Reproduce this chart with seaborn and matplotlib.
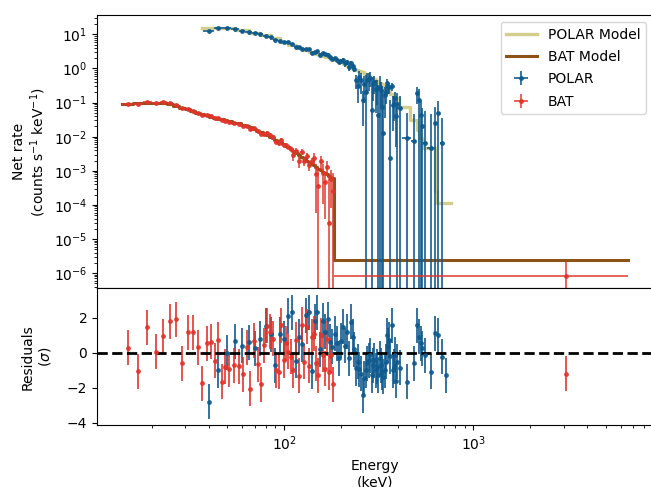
import numpy as np
import seaborn as sns
import matplotlib.pyplot as plt

# POLAR spectrum (keV, counts/s/keV)
polar_energy = [40, 45, 50, 55, 60, 65, 70, 75, 80, 85, 90, 95, 100, 105, 110, 115, 120, 125, 130, 135,
                140, 145, 150, 155, 160, 165, 170, 175, 180, 185, 190, 195, 200, 205, 210, 215, 220, 225,
                230, 235, 240, 245, 250, 255, 260, 265, 270, 275, 280, 285, 290, 295, 300, 305, 310, 315,
                320, 325, 330, 335, 340, 345, 350, 355, 360, 365, 370, 375, 380, 385, 390, 395,
                408, 445, 487, 505, 515, 526, 537, 556, 600, 630, 652, 680, 715]
polar_edges = [37.5, 42.5, 47.5, 52.5, 57.5, 62.5, 67.5, 72.5, 77.5, 82.5, 87.5, 92.5, 97.5, 102.5, 107.5,
               112.5, 117.5, 122.5, 127.5, 132.5, 137.5, 142.5, 147.5, 152.5, 157.5, 162.5, 167.5, 172.5,
               177.5, 182.5, 187.5, 192.5, 197.5, 202.5, 207.5, 212.5, 217.5, 222.5, 227.5, 232.5, 237.5,
               242.5, 247.5, 252.5, 257.5, 262.5, 267.5, 272.5, 277.5, 282.5, 287.5, 292.5, 297.5, 302.5,
               307.5, 312.5, 317.5, 322.5, 327.5, 332.5, 337.5, 342.5, 347.5, 352.5, 357.5, 362.5, 367.5,
               372.5, 377.5, 382.5, 387.5, 392.5, 397.5,
               420, 470, 500, 510, 520, 531, 543, 570, 620, 640, 665, 695, 740]
polar_rate = [12.5, 15.0, 15.1, 14.1, 12.8, 11.7, 10.6, 10.1, 9.2, 8.1, 6.7, 6.5,
              6.0, 5.9, 5.35, 4.2, 4.2, 3.7, 3.85, 3.6, 2.75, 3.1,
              3.3, 2.55, 2.85, 2.6, 2.55, 2.15, 1.92, 1.98, 1.75, 1.5,
              1.65, 1.8, 1.4, 1.5, 1.08, 1.45, 1.18, 0.99, 0.45, 0.30,
              0.55, 0.45, 0.12, 0.35,
              0.20, 0.46, 0.49, 0.53, 0.06, 0.34, 0.39, 0.25, 0.275, 0.044, 0.29, 0.24, 0.076,
              0.013, 0.165, 0.21, 0.38, 0.28, 0.28, 0.0023, 0.30, 0.085, 0.093, 0.135, 0.04, 0.092,
              0.071, 0.0093, 0.0076, 0.19, 0.12, 0.044, 0.02, 0.0065, 0.0048, 0.025, 0.05, 0.0065, np.nan]
polar_err = [0.55, 0.54, 0.53, 0.48, 0.44, 0.40, 0.37, 0.34, 0.30, 0.27, 0.24, 0.22,
             0.35, 0.32, 0.28, 0.26, 0.24, 0.22, 0.20, 0.19, 0.18, 0.17,
             0.27, 0.25, 0.24, 0.23, 0.22, 0.20, 0.19, 0.18, 0.17, 0.16,
             0.29, 0.28, 0.26, 0.24, 0.23, 0.21, 0.20, 0.19, 0.20, 0.20,
             0.28, 0.27, 0.10, 0.25,
             0.46, 0.28, 0.27, 0.25, 0.38, 0.225, 0.216, 0.20, 0.19, 0.28, 0.30, 0.16, 0.23,
             0.22, 0.13, 0.12, 0.12, 0.105, 0.096, 0.12, 0.078, 0.07, 0.065, 0.063, 0.035, 0.10,
             0.09, 0.04, 0.04, 0.10, 0.13, 0.07, 0.05, 0.05, 0.04, 0.05, 0.06, 0.03, 0.02]
polar_resid = [-2.8, -1.0, 0.0, 0.65, 0.4, 0.6, 0.25, 0.8, 1.55, 1.05, -0.7, 1.05,
               0.8, 2.1, 2.3, -0.45, 0.9, 0.5, 2.15, 2.3, -1.05, 1.8,
               2.3, 0.2, 1.83, 1.2, 1.91, 0.63, 0.34, 1.1, 0.54, -0.32,
               0.7, 1.49, 0.4, 1.2, -0.3, 1.77, 0.91, 0.2, -0.89, -0.5,
               -0.93, -1.2, -2.42, -1.46,
               -0.99, -0.6, -0.42, -0.13, -1.27, -0.7, -0.42, -1.0, -0.8, -1.27, -0.3, -0.7, -1.1,
               -1.37, -0.99, -0.5, 1.01, 0.4, 0.73, -0.2, 1.58, -1.0, -0.8, -0.1, -1.6, -0.5,
               -0.84, -1.66, -0.61, 1.58, 0.91, 0.54, 0.25, -0.13, -1.08, 1.11, 1.01, -0.23, -1.27]

polar_model_edges = [37, 45, 55, 65, 75, 85, 95, 105, 115, 125, 135, 145, 155, 165, 175, 185, 195, 205,
                     215, 225, 235, 245, 255, 265, 275, 285, 295, 305, 315, 325, 335, 345, 355, 365,
                     378, 406, 463, 502, 515, 533, 627, 645, 763]
polar_model = [15.8, 15.5, 13.2, 11.0, 9.3, 7.6, 6.0, 4.9, 4.1, 3.47, 3.0, 2.69, 2.40, 2.19, 1.95,
               1.74, 1.55, 1.35, 1.17, 1.05, 0.93, 0.85, 0.78, 0.69, 0.62, 0.54, 0.48, 0.43, 0.38,
               0.34, 0.295, 0.257, 0.214, 0.174, 0.141, 0.072, 0.031, 0.0158, 0.0089, 0.0046,
               2.5e-4, 1.12e-4]

# BAT spectrum
bat_energy = [15, 17, 19, 21, 23, 25, 27, 29, 31, 33, 35, 37, 39, 41, 43, 45, 47, 49,
              51.5, 54.5, 57.5, 60.5, 63.5, 66.5, 69.5, 72.5, 75.5, 78.5, 81.5, 84.5, 87.5, 90.5,
              93.5, 96.5, 99.5, 102.5, 105.5, 108.5,
              112, 116, 120, 124, 128, 132, 136, 140, 144, 148, 152, 156, 160, 164, 168, 172, 176,
              180.5, 3100]
bat_edges = [14, 16, 18, 20, 22, 24, 26, 28, 30, 32, 34, 36, 38, 40, 42, 44, 46, 48, 50,
             53, 56, 59, 62, 65, 68, 71, 74, 77, 80, 83, 86, 89, 92, 95, 98, 101, 104, 107, 110,
             114, 118, 122, 126, 130, 134, 138, 142, 146, 150, 154, 158, 162, 166, 170, 174, 178,
             183, 6560]
bat_rate = [0.090, 0.091, 0.106, 0.100, 0.102, 0.0955, 0.087, 0.069, 0.066, 0.0586, 0.0506, 0.0428,
            0.044, 0.040, 0.0354, 0.035, 0.0299, 0.029,
            0.0264, 0.0249, 0.0234, 0.0208, 0.0213, 0.0167, 0.0177, 0.0145, 0.0120, 0.0123, 0.0130,
            0.0114, 0.0098, 0.0071, 0.0064, 0.0081, 0.0057, 0.0059, 0.0049, 0.0043,
            0.00286, 0.0039, 0.00196, 0.00364, 0.0020, 0.00275, 0.00146, 0.00196, 0.0024, 0.00083,
            0.00035, 0.0019, 0.00087, 0.00048, 0.0013, 2.9e-5, 0.00058,
            0.00025, 8.3e-7]
bat_err = [0.0036, 0.0038, 0.0040, 0.0040, 0.0039, 0.0036, 0.0032, 0.0028, 0.0025, 0.0022, 0.0020,
           0.0018, 0.0017, 0.0016, 0.0014, 0.0014, 0.0013, 0.0012,
           0.0017, 0.0016, 0.0015, 0.0013, 0.0013, 0.0011, 0.0010, 0.0009, 0.0008, 0.0007, 0.0013,
           0.0012, 0.0011, 0.0010, 0.0009, 0.0008, 0.0007, 0.0007, 0.0006, 0.0005,
           0.00095, 0.00083, 0.00073, 0.00065, 0.00058, 0.0005, 0.00045, 0.0004, 0.00087, 0.00077,
           0.0009, 0.00084, 0.00076, 0.00044, 0.0006, 0.0007, 0.0005,
           0.0006, 1.35e-6]
bat_model = [0.089, 0.095, 0.100, 0.100, 0.098, 0.089, 0.081, 0.071, 0.063, 0.056, 0.050, 0.046,
             0.043, 0.039, 0.036, 0.034, 0.032, 0.030,
             0.028, 0.026, 0.0245, 0.0224, 0.0209, 0.019, 0.017, 0.0151, 0.0135, 0.0120, 0.0110,
             0.0100, 0.0089, 0.0081, 0.0074, 0.0068, 0.0060, 0.0055, 0.0049, 0.0044,
             0.0038, 0.0033, 0.0029, 0.0026, 0.0023, 0.0020, 0.0018, 0.0016, 0.00145, 0.00129,
             0.00115, 0.00105, 0.00095, 0.00087, 0.00079, 0.00072, 0.00066,
             0.0006, 2.45e-6]
bat_resid = [0.29, -1.05, 1.47, 0.06, 0.95, 1.81, 1.91, -0.6, 1.17, 1.17, 0.31, -1.75, 0.54, 0.62,
             -0.45, 0.74, -1.66, -0.8,
             -0.93, -0.72, -0.76, -1.22, 0.31, -2.04, 0.69, -0.65, -1.81, 0.44, 1.54, 1.2, 0.8,
             -0.99, -1.08, 1.58, -0.42, 0.54, 0.06, -0.23,
             -0.99, 0.73, -1.3, 1.6, -0.5, 1.5, -0.75, 0.9, 1.1, -0.6, -1.28, 1.0, -0.1, -0.9, 0.8,
             -1.1, -0.15,
             -1.8, -1.2]

polar_color = '#0f5a8e'
bat_color = '#e0352b'
polar_model_color = '#d3cf8b'
bat_model_color = '#8e5216'


def xerr_from_edges(centers, edges):
    c = np.asarray(centers, float)
    e = np.asarray(edges, float)
    return np.vstack([c - e[:-1], e[1:] - c])


fig = plt.figure(figsize=(6.51, 4.87), dpi=100)
ax1 = fig.add_axes([0.149, 0.408, 0.854, 0.561])
ax2 = fig.add_axes([0.149, 0.127, 0.854, 0.281], sharex=ax1)

ax1.set_xscale('log')
ax1.set_yscale('log')

sns.lineplot(x=polar_model_edges, y=polar_model + polar_model[-1:], drawstyle='steps-post',
             color=polar_model_color, lw=2.4, label='POLAR Model', ax=ax1, estimator=None)
sns.lineplot(x=bat_edges, y=bat_model + bat_model[-1:], drawstyle='steps-post',
             color=bat_model_color, lw=2.2, label='BAT Model', ax=ax1, estimator=None)

ax1.errorbar(polar_energy, polar_rate, yerr=polar_err, xerr=xerr_from_edges(polar_energy, polar_edges),
             fmt='o', ms=2.5, color=polar_color, elinewidth=1.3, alpha=0.9, label='POLAR')
ax1.errorbar(bat_energy, bat_rate, yerr=bat_err, xerr=xerr_from_edges(bat_energy, bat_edges),
             fmt='o', ms=2.5, color=bat_color, elinewidth=1.2, alpha=0.9, label='BAT')

ax1.set_xlim(10.28, 8890)
ax1.set_ylim(3.6e-7, 36.7)
ax1.set_ylabel('Net rate\n(counts s$^{-1}$ keV$^{-1}$)')
ax1.tick_params(labelbottom=False)
ax1.legend(loc='upper right', handlelength=2.2, labelspacing=0.6)

ax2.errorbar(polar_energy, polar_resid, yerr=1, fmt='o', ms=2.5, color=polar_color,
             elinewidth=1.4, alpha=0.85)
ax2.errorbar(bat_energy, bat_resid, yerr=1, fmt='o', ms=2.5, color=bat_color,
             elinewidth=1.4, alpha=0.85)
ax2.axhline(0, color='k', ls='--', lw=2)
ax2.set_ylim(-4.13, 3.68)
ax2.set_yticks([-4, -2, 0, 2])
ax2.set_ylabel('Residuals\n($\\sigma$)', labelpad=10)
ax2.set_xlabel('Energy\n(keV)')

fig.savefig('out.png', dpi=100)
